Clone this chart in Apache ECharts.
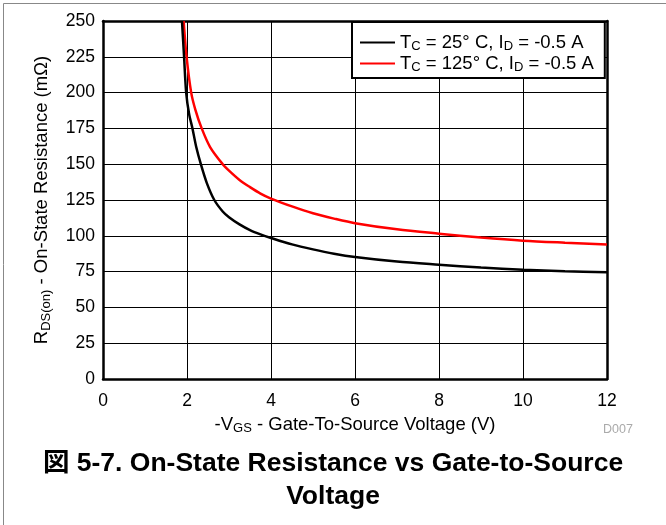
<!DOCTYPE html>
<html>
<head>
<meta charset="utf-8">
<script src="https://cdn.jsdelivr.net/npm/echarts@6/dist/echarts.min.js"></script>
<style>
html,body{margin:0;padding:0;background:#fff;}
#c{width:666px;height:525px;}
</style>
</head>
<body>
<div id="c"></div>
<script>
// Data
const vgs25 = [1.88, 1.93, 1.98, 2.05, 2.13, 2.22, 2.33, 2.47, 2.65, 2.85, 3.0, 3.25, 3.5, 3.75, 4.0, 4.5, 5.0, 5.5, 6.0, 7.0, 8.0, 9.0, 10.0, 11.0, 12.0];
const rds25 = [250, 225, 200, 185, 175, 162, 150, 137, 125, 117, 113, 108, 104, 101, 98.5, 94, 90.5, 87.5, 85.2, 82, 79.8, 77.8, 76.3, 75.3, 74.5];
const vgs125 = [1.92, 1.99, 2.1, 2.2, 2.35, 2.55, 2.85, 3.0, 3.25, 3.5, 3.75, 4.0, 4.5, 5.0, 5.5, 6.0, 7.0, 8.0, 9.0, 10.0, 11.0, 12.0];
const rds125 = [250, 225, 200, 188, 175, 162, 150, 145.5, 139, 134, 129.5, 126, 120.5, 115.7, 112, 108.8, 104.5, 101.5, 98.8, 96.6, 95.2, 94];
const seriesNames = ['25', '125'];
const xTicks = [0, 2, 4, 6, 8, 10, 12];
const yTicks = [0, 25, 50, 75, 100, 125, 150, 175, 200, 225, 250];

const FONT = "'Liberation Sans', Arial, 'Noto Sans CJK JP', sans-serif";
const chart = echarts.init(document.getElementById('c'), null, {renderer: 'canvas'});

function pairs(xs, ys) { return xs.map((x, i) => [x, ys[i]]); }

function subRich(main, sub, pad, lh) {
  return {
    n: {fontSize: main, fontFamily: FONT, color: '#000', lineHeight: lh},
    s: {fontSize: sub, fontFamily: FONT, color: '#000', padding: [pad, 0, 0, 0], lineHeight: lh}
  };
}

chart.setOption({
  animation: false,
  backgroundColor: '#fff',
  grid: {left: 103, right: 59, top: 21, bottom: 146},
  xAxis: [{
    type: 'value', min: 0, max: 12, interval: 2,
    axisLine: {show: true, lineStyle: {color: '#000', width: 2.5}},
    axisTick: {show: false},
    splitLine: {show: true, lineStyle: {color: '#000', width: 1}},
    axisLabel: {color: '#000', fontSize: 17.5, fontFamily: FONT, margin: 13,
      formatter: v => xTicks.includes(v) ? String(v) : ''},
    name: '{n|-V}{s|GS}{n| - Gate-To-Source Voltage (V)}',
    nameLocation: 'middle', nameGap: 33,
    nameTextStyle: {rich: subRich(18.5, 13, 8, 22)}
  }, {
    type: 'value', min: 0, max: 12, position: 'top',
    axisLine: {show: true, onZero: false, lineStyle: {color: '#000', width: 2.5}},
    axisTick: {show: false}, axisLabel: {show: false}, splitLine: {show: false}
  }],
  yAxis: [{
    type: 'value', min: 0, max: 250, interval: 25,
    axisLine: {show: true, lineStyle: {color: '#000', width: 2.5}},
    axisTick: {show: false},
    splitLine: {show: true, lineStyle: {color: '#000', width: 1}},
    axisLabel: {color: '#000', fontSize: 17.5, fontFamily: FONT, margin: 8,
      formatter: v => yTicks.includes(v) ? String(v) : ''},
    name: '{n|R}{s|DS(on)}{n| - On-State Resistance (mΩ)}',
    nameLocation: 'middle', nameGap: 50, nameRotate: 90,
    nameTextStyle: {rich: subRich(18.5, 13, 8, 22)}
  }, {
    type: 'value', min: 0, max: 250, position: 'right',
    axisLine: {show: true, onZero: false, lineStyle: {color: '#000', width: 2.5}},
    axisTick: {show: false}, axisLabel: {show: false}, splitLine: {show: false}
  }],
  legend: {
    orient: 'vertical', left: 352, top: 22,
    backgroundColor: '#fff', borderColor: '#000', borderWidth: 2, borderRadius: 0,
    padding: [10, 11, 4, 8],
    itemWidth: 35, itemHeight: 14, itemGap: 0,
    icon: 'path://M0,6 L35,6 L35,8 L0,8 Z',
    data: seriesNames,
    formatter: n => '{n|T}{s|C}{n| = ' + n + '° C, I}{s|D}{n| = -0.5 A}',
    textStyle: {rich: subRich(18.5, 13, 8, 21)}
  },
  title: {
    text: '図 5-7. On-State Resistance vs Gate-to-Source\nVoltage',
    left: 328, top: 442, textAlign: 'center',
    textStyle: {fontSize: 26.5, fontWeight: 'bold', fontFamily: FONT, color: '#000', lineHeight: 33}
  },
  graphic: [
    {type: 'rect', left: 1, top: 1, shape: {width: 663, height: 522},
     style: {fill: 'none', stroke: '#888', lineWidth: 1}, silent: true, z: -10},
    {type: 'text', left: 603, top: 423,
     style: {text: 'D007', fontSize: 12.5, fontFamily: FONT, fill: '#aaa'}}
  ],
  series: [
    {name: seriesNames[0], type: 'line', data: pairs(vgs25, rds25), smooth: 0.3,
     showSymbol: false, lineStyle: {color: '#000', width: 2.5}, itemStyle: {color: '#000'}, z: 5},
    {name: seriesNames[1], type: 'line', data: pairs(vgs125, rds125), smooth: 0.3,
     showSymbol: false, lineStyle: {color: '#ff0000', width: 2.5}, itemStyle: {color: '#ff0000'}, z: 4}
  ]
});
</script>
</body>
</html>
